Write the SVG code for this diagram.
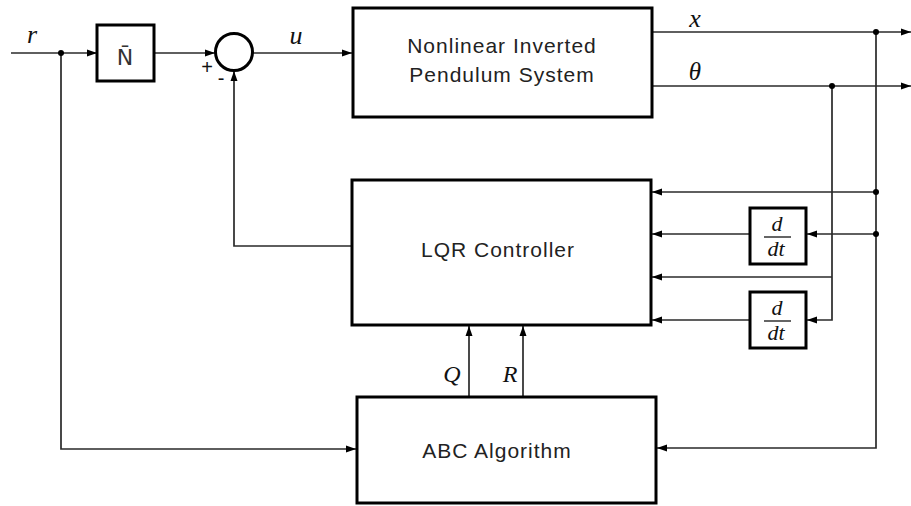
<svg xmlns="http://www.w3.org/2000/svg" width="911" height="506" viewBox="0 0 911 506">
<style>
.box{fill:#fff;stroke:#000;stroke-width:3}
.ln{fill:none;stroke:#2a2a2a;stroke-width:1.7}
.lbl{font-family:"Liberation Sans",Arial,sans-serif;font-size:21px;fill:#222;text-anchor:middle;letter-spacing:1px}
.m{font-family:"Liberation Serif","Times New Roman",serif;font-style:italic;fill:#111;text-anchor:middle}
.sg{font-family:"Liberation Sans",Arial,sans-serif;font-size:20px;fill:#111;text-anchor:middle}
.dot{fill:#000}
</style>
<defs>
<marker id="ah" markerUnits="userSpaceOnUse" markerWidth="11" markerHeight="8" refX="10" refY="4" orient="auto">
<path d="M0,0.5 L10,4 L0,7.5 z" fill="#000"/>
</marker>
</defs>
<rect width="911" height="506" fill="#fff"/>
<g id="connectors">
<path class="ln" d="M11,53 H97" marker-end="url(#ah)"/>
<path class="ln" d="M154,53 H215" marker-end="url(#ah)"/>
<path class="ln" d="M253,53 H352" marker-end="url(#ah)"/>
<path class="ln" d="M352,246 H234 V71" marker-end="url(#ah)"/>
<path class="ln" d="M61,53 V449 H356" marker-end="url(#ah)"/>
<path class="ln" d="M652,32 H911" marker-end="url(#ah)"/>
<path class="ln" d="M652,86 H911" marker-end="url(#ah)"/>
<path class="ln" d="M876,32 V448 H657" marker-end="url(#ah)"/>
<path class="ln" d="M876,192 H652" marker-end="url(#ah)"/>
<path class="ln" d="M876,234 H807" marker-end="url(#ah)"/>
<path class="ln" d="M750,234 H652" marker-end="url(#ah)"/>
<path class="ln" d="M832,86 V320 H807" marker-end="url(#ah)"/>
<path class="ln" d="M832,277 H652" marker-end="url(#ah)"/>
<path class="ln" d="M750,320 H652" marker-end="url(#ah)"/>
<path class="ln" d="M469,397 V326" marker-end="url(#ah)"/>
<path class="ln" d="M523,397 V326" marker-end="url(#ah)"/>
<circle class="dot" cx="61" cy="53" r="3"/>
<circle class="dot" cx="876" cy="32" r="3"/>
<circle class="dot" cx="832" cy="86" r="3"/>
<circle class="dot" cx="876" cy="192" r="3"/>
<circle class="dot" cx="876" cy="234" r="3"/>
<text class="m" x="32" y="43" font-size="26">r</text>
<text class="m" x="296" y="44" font-size="26">u</text>
<text class="m" x="695" y="27" font-size="26">x</text>
<text class="m" x="695" y="80" font-size="25">θ</text>
<text class="m" x="452" y="382" font-size="24">Q</text>
<text class="m" x="510" y="382" font-size="24">R</text>
</g>
<g id="nbar">
<rect class="box" x="97" y="25" width="57" height="56"/>
<text x="125" y="65" style="font-family:'DejaVu Sans','Liberation Sans',sans-serif;font-size:22px;fill:#333;text-anchor:middle">N̄</text>
</g>
<g id="sum">
<circle cx="234" cy="52" r="18.5" fill="#fff" stroke="#000" stroke-width="3"/>
<text class="sg" x="207" y="74">+</text>
<text class="sg" x="221" y="85">-</text>
</g>
<g id="system">
<rect class="box" x="353" y="8" width="299" height="109"/>
<text class="lbl" x="502" y="53">Nonlinear Inverted</text>
<text class="lbl" x="502" y="82">Pendulum System</text>
</g>
<g id="lqr">
<rect class="box" x="352" y="180" width="299" height="145"/>
<text class="lbl" x="498" y="257">LQR Controller</text>
</g>
<g id="abc">
<rect class="box" x="357" y="397" width="299" height="106"/>
<text class="lbl" x="497" y="458">ABC Algorithm</text>
</g>
<g id="ddt1">
<rect class="box" x="750" y="208" width="56" height="56"/>
<text class="m" x="777" y="231" font-size="22">d</text>
<line x1="764" y1="237" x2="791" y2="237" stroke="#111" stroke-width="1.3"/>
<text class="m" x="776" y="256" font-size="22">dt</text>
</g>
<g id="ddt2">
<rect class="box" x="750" y="292" width="56" height="56"/>
<text class="m" x="777" y="315" font-size="22">d</text>
<line x1="764" y1="321" x2="791" y2="321" stroke="#111" stroke-width="1.3"/>
<text class="m" x="776" y="340" font-size="22">dt</text>
</g>
</svg>
